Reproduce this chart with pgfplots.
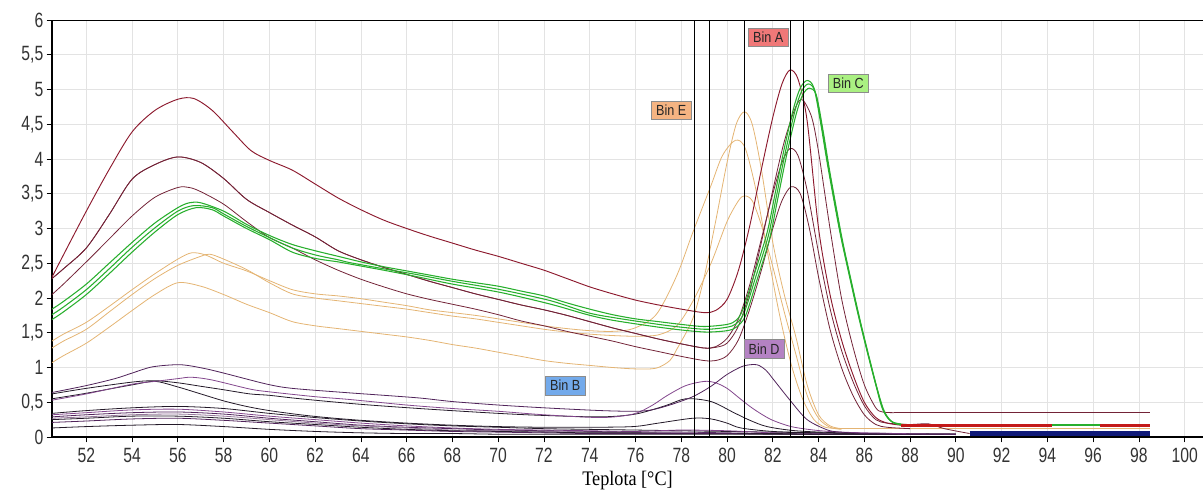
\documentclass[border=0pt]{standalone}
\usepackage{fontspec}
\setmainfont{Liberation Serif}
\newfontfamily\arial{Liberation Sans}
\usepackage{graphicx}
\usepackage{pgfplots}
\pgfplotsset{compat=1.18}
\definecolor{maroonA}{RGB}{115,35,55}
\definecolor{redA}{RGB}{140,25,45}
\definecolor{redbase}{RGB}{195,25,25}
\definecolor{grn}{RGB}{40,175,45}
\definecolor{tanE}{RGB}{228,180,115}
\definecolor{purD}{RGB}{80,35,90}
\definecolor{purM}{RGB}{130,70,140}
\definecolor{darkK}{RGB}{35,25,40}
\definecolor{greyP}{RGB}{150,120,155}
\definecolor{navyB}{RGB}{15,25,120}
\definecolor{binA}{RGB}{240,120,120}
\definecolor{binC}{RGB}{170,240,130}
\definecolor{binE}{RGB}{245,180,130}
\definecolor{binD}{RGB}{180,130,195}
\definecolor{binB}{RGB}{115,170,235}
\begin{document}
\begin{tikzpicture}
\begin{axis}[
  scale only axis, width=863.25pt, height=312.75pt,
  xmin=50.5, xmax=100.8, ymin=0, ymax=6,
  axis x line*=bottom, axis y line*=left,
  x axis line style={-, line width=2.2pt, black},
  y axis line style={-, line width=2.2pt, black},
  xtick={52,54,...,100}, ytick={0,0.5,...,6},
  tick align=outside, major tick length=4pt,
  tick style={black, line width=0.6pt},
  grid=major, major grid style={line width=0.6pt, black!11},
  /pgf/number format/assume math mode=true,
  ticklabel style={font=\arial\fontsize{15.5}{16}\selectfont, text=black!80},
  xticklabel={\scalebox{0.76}[1]{\pgfmathprintnumber{\tick}}},
  yticklabel={\scalebox{0.76}[1]{\pgfmathprintnumber[use comma,fixed,precision=1]{\tick}}},
  xticklabel style={yshift=-1pt},
  yticklabel style={xshift=1pt},
  every axis x label/.style={at={(axis description cs:0.5,0)}, anchor=center, yshift=-32.5pt, font=\fontsize{15.5}{16}\selectfont},
  xlabel={\scalebox{0.88}[1]{Teplota [°C]}},
  no markers,
  cv/.style={smooth, tension=0.5, line width=0.6pt},
]
% small low curves
\addplot[cv, darkK] coordinates {(50.5,0.34)(52,0.38)(54,0.42)(56,0.44)(58,0.41)(60,0.34)(62,0.28)(64,0.23)(66,0.19)(68,0.16)(70,0.14)(72,0.12)(74,0.11)(76,0.10)(78,0.09)(80,0.08)(82,0.07)(84,0.06)(86,0.05)(88,0.04)(90,0.04)};
\addplot[cv, purM] coordinates {(50.5,0.32)(52,0.35)(54,0.39)(56,0.40)(58,0.36)(60,0.30)(62,0.25)(64,0.20)(66,0.16)(68,0.13)(70,0.11)(72,0.10)(74,0.09)(76,0.08)(78,0.10)(80,0.09)(82,0.06)(84,0.05)(86,0.04)(88,0.04)(90,0.04)};
\addplot[cv, purD] coordinates {(50.5,0.29)(52,0.32)(54,0.35)(56,0.36)(58,0.33)(60,0.27)(62,0.22)(64,0.17)(66,0.14)(68,0.12)(70,0.10)(72,0.09)(74,0.08)(76,0.07)(78,0.07)(80,0.06)(82,0.05)(84,0.04)(86,0.04)(88,0.04)(90,0.04)};
\addplot[cv, greyP] coordinates {(50.5,0.27)(52,0.29)(54,0.32)(56,0.33)(58,0.30)(60,0.25)(62,0.20)(64,0.16)(66,0.13)(68,0.10)(70,0.09)(72,0.08)(74,0.07)(76,0.06)(78,0.06)(80,0.05)(82,0.05)(84,0.04)(86,0.04)(88,0.04)(90,0.04)};
\addplot[cv, darkK] coordinates {(50.5,0.25)(52,0.27)(54,0.30)(56,0.30)(58,0.27)(60,0.22)(62,0.18)(64,0.14)(66,0.11)(68,0.09)(70,0.08)(72,0.07)(74,0.06)(76,0.06)(78,0.05)(80,0.05)(82,0.05)(84,0.04)(86,0.04)(88,0.04)(90,0.04)};
\addplot[cv, purD] coordinates {(50.5,0.21)(52,0.23)(54,0.26)(56,0.27)(58,0.24)(60,0.20)(62,0.16)(64,0.12)(66,0.10)(68,0.08)(70,0.07)(72,0.06)(74,0.05)(76,0.05)(78,0.05)(80,0.05)(82,0.04)(84,0.04)(86,0.04)(88,0.04)(90,0.04)};
\addplot[cv, darkK] coordinates {(50.5,0.13)(52,0.15)(54,0.17)(56,0.18)(58,0.15)(60,0.11)(62,0.08)(64,0.06)(66,0.05)(68,0.05)(70,0.04)(72,0.04)(74,0.04)(76,0.04)(78,0.04)(80,0.04)(82,0.04)(84,0.04)(86,0.04)(88,0.04)(90,0.04)};
% purple / dark curves with bumps (Bin B, Bin D)
\addplot[cv, darkK] coordinates {(50.5,0.55)(52,0.63)(54,0.75)(55,0.80)(56,0.72)(57,0.62)(58,0.52)(59,0.44)(60,0.38)(61.35,0.32)(62.5,0.28)(64,0.24)(66,0.20)(68,0.17)(70,0.15)(72,0.14)(74,0.14)(75.9,0.15)(77,0.20)(78.5,0.27)(79.3,0.26)(80,0.20)(80.6,0.13)(82,0.08)(84,0.06)(86,0.05)(88,0.04)(90,0.04)};
\addplot[cv, darkK] coordinates {(50.5,0.62)(52,0.70)(54,0.79)(55,0.81)(56,0.78)(57,0.73)(58,0.68)(59.15,0.62)(60,0.60)(61.35,0.55)(64,0.47)(67,0.40)(70,0.34)(72,0.31)(74.5,0.29)(76,0.33)(77.3,0.45)(78.2,0.55)(79.3,0.51)(80.3,0.35)(81,0.24)(81.75,0.15)(83,0.09)(85,0.06)(87.5,0.05)(90,0.04)};
\addplot[cv, purM] coordinates {(50.5,0.53)(52,0.62)(54,0.76)(55,0.80)(56,0.84)(56.6,0.86)(57.5,0.82)(59.15,0.69)(60,0.65)(62,0.58)(63.5,0.54)(66,0.46)(68,0.41)(70,0.37)(72,0.32)(74.5,0.28)(75.9,0.33)(76.7,0.45)(77.4,0.60)(78.2,0.74)(79,0.80)(79.5,0.78)(80,0.70)(80.5,0.57)(81,0.44)(81.5,0.33)(82,0.24)(82.8,0.15)(83.8,0.10)(85,0.07)(87.5,0.05)(90,0.04)};
\addplot[cv, purD] coordinates {(50.5,0.64)(52,0.74)(53.25,0.84)(54,0.92)(54.9,1.01)(56.1,1.04)(57.1,0.99)(58,0.92)(59.9,0.76)(61,0.70)(63.3,0.64)(65,0.60)(66.6,0.56)(68,0.51)(70,0.46)(72,0.42)(74.5,0.38)(76,0.37)(76.7,0.39)(77.5,0.46)(78.5,0.58)(79.3,0.73)(80,0.90)(80.7,1.02)(81.3,1.04)(81.7,0.96)(82,0.84)(82.75,0.53)(83.5,0.25)(84.4,0.10)(85,0.07)(86,0.05)(88,0.04)(90,0.04)};
% tan curves (Bin E)
\addplot[cv, tanE] coordinates {(50.5,1.38)(51,1.48)(52,1.65)(53,1.88)(54,2.12)(55,2.35)(56,2.56)(56.6,2.65)(57.2,2.62)(58,2.50)(59,2.39)(60,2.25)(61,2.12)(62,2.06)(63,2.03)(64,1.99)(65,1.94)(66,1.89)(67,1.83)(68,1.79)(69,1.75)(70,1.70)(71,1.65)(72,1.60)(73,1.56)(74,1.53)(75,1.52)(75.9,1.56)(76.9,1.76)(77.8,2.32)(78.5,2.94)(79.3,3.62)(79.8,4.05)(80.37,4.27)(80.8,4.15)(81.3,3.50)(81.8,2.60)(82.3,1.75)(82.8,1.05)(83.3,0.55)(83.8,0.25)(84.3,0.14)(85,0.12)};
\addplot[cv, tanE] coordinates {(50.5,1.28)(51,1.38)(52,1.55)(53,1.80)(54,2.05)(55,2.28)(56,2.47)(57,2.60)(57.4,2.63)(58,2.56)(59,2.41)(60,2.22)(61,2.06)(62,2.00)(63,1.96)(64,1.92)(65,1.88)(66,1.84)(67,1.79)(68,1.74)(69,1.70)(70,1.65)(71,1.60)(72,1.55)(73,1.51)(74,1.48)(75,1.46)(76,1.45)(77,1.47)(77.8,1.60)(78.5,1.95)(79.3,2.50)(80,3.10)(80.5,3.40)(80.76,3.47)(81.1,3.40)(81.5,3.05)(82,2.45)(82.5,1.80)(83,1.20)(83.5,0.60)(84,0.27)(84.5,0.14)(85,0.11)};
\addplot[cv, tanE] coordinates {(50.5,1.07)(51,1.17)(52,1.35)(53,1.58)(54,1.82)(55,2.05)(56,2.22)(57,2.17)(58,2.05)(59,1.91)(60,1.79)(61,1.66)(62,1.60)(63,1.56)(64,1.52)(65,1.48)(66,1.44)(67,1.39)(68,1.33)(69,1.28)(70,1.22)(71,1.16)(72,1.10)(73,1.06)(74,1.03)(75,1.00)(76,0.98)(76.9,0.99)(77.5,1.10)(77.8,1.26)(78.5,1.70)(79,2.30)(79.5,3.10)(80,3.95)(80.4,4.50)(80.76,4.68)(81.1,4.50)(81.5,3.85)(82,2.80)(82.5,2.05)(83,1.45)(83.5,0.75)(84,0.32)(84.5,0.16)(85,0.12)};
\addplot[tanE, line width=1.2pt] coordinates {(85,0.12)(98.5,0.12)};
% maroon curves (Bin A)
\addplot[cv, maroonA] coordinates {(50.5,2.05)(51,2.20)(52,2.52)(53,2.85)(54,3.18)(55,3.45)(56,3.59)(56.5,3.59)(57,3.53)(58,3.35)(59,3.10)(60,2.87)(61,2.72)(62,2.55)(63,2.40)(64,2.27)(65,2.16)(66,2.06)(67,1.98)(68,1.91)(69,1.84)(70,1.76)(71,1.67)(72,1.60)(73,1.52)(74,1.45)(75,1.38)(76,1.30)(77,1.23)(78,1.16)(79,1.10)(79.5,1.10)(80,1.17)(80.5,1.40)(81,1.85)(81.5,2.40)(82,3.00)(82.4,3.40)(82.8,3.60)(83.2,3.50)(83.6,3.00)(84,2.30)(84.5,1.55)(85,1.00)(85.5,0.60)(86,0.32)(86.5,0.18)(87,0.14)(88,0.12)};
\addplot[cv, maroonA] coordinates {(50.5,2.28)(51,2.42)(52,2.72)(53,3.20)(54,3.71)(55,3.92)(56,4.03)(57,3.95)(58,3.72)(59,3.42)(60,3.23)(61,3.05)(62,2.88)(63,2.68)(64,2.55)(65,2.44)(66,2.34)(67,2.24)(68,2.15)(69,2.06)(70,1.98)(71,1.90)(72,1.83)(73,1.75)(74,1.66)(75,1.57)(76,1.49)(77,1.41)(78,1.34)(79,1.28)(79.5,1.30)(80,1.42)(80.5,1.70)(81,2.20)(81.5,2.85)(82,3.50)(82.4,3.95)(82.75,4.15)(83.1,4.05)(83.5,3.55)(84,2.65)(84.5,1.85)(85,1.25)(85.5,0.80)(86,0.45)(86.5,0.25)(87,0.20)(88,0.18)(88.8,0.19)(89.5,0.12)(90.6,0.05)};
\addplot[cv, maroonA] coordinates {(50.5,2.28)(51,2.42)(52,2.72)(53,3.20)(54,3.71)(55,3.92)(56,4.03)(57,3.95)(58,3.72)(59,3.42)(60,3.23)(61,3.05)(62,2.88)(63,2.68)(64,2.55)(65,2.44)(66,2.34)(67,2.24)(68,2.15)(69,2.06)(70,1.98)(71,1.90)(72,1.83)(73,1.75)(74,1.66)(75,1.57)(76,1.49)(77,1.41)(78,1.34)(79,1.28)(79.5,1.29)(80,1.35)(80.5,1.60)(81,2.10)(81.5,2.80)(82,3.55)(82.5,4.25)(83,4.75)(83.3,4.85)(83.7,4.60)(84,4.10)(84.5,3.00)(85,2.00)(85.5,1.30)(86,0.75)(86.5,0.42)(86.8,0.36)(87.3,0.35)};
\addplot[maroonA, line width=0.7pt] coordinates {(87.3,0.35)(98.5,0.35)};
\addplot[cv, redA, line width=0.7pt] coordinates {(50.5,2.30)(51,2.62)(52,3.25)(53,3.85)(54,4.39)(55,4.70)(56,4.86)(56.7,4.87)(57.5,4.70)(58.4,4.39)(59.2,4.12)(60,3.98)(61,3.84)(62,3.64)(63,3.44)(64,3.27)(65,3.12)(66,3.00)(67,2.89)(68,2.79)(69,2.69)(70,2.60)(71,2.50)(72,2.40)(73,2.28)(74,2.16)(75,2.06)(76,1.97)(77,1.90)(78,1.84)(79,1.79)(79.5,1.82)(80,1.98)(80.5,2.40)(81,3.05)(81.5,3.85)(82,4.60)(82.4,5.08)(82.75,5.28)(83.1,5.15)(83.5,4.55)(84,3.00)(84.5,2.05)(85,1.40)(85.5,0.90)(86,0.50)(86.5,0.28)(87,0.20)(87.6,0.17)};
% green curves (Bin C)
\addplot[cv, grn, line width=0.8pt] coordinates {(50.5,1.69)(51,1.80)(52,2.05)(53,2.35)(54,2.66)(55,2.95)(56,3.20)(56.8,3.30)(57.5,3.27)(58,3.18)(59,3.00)(60,2.84)(61,2.66)(62,2.57)(63,2.52)(63.5,2.49)(65,2.40)(66.4,2.31)(68,2.20)(70.1,2.08)(72.3,1.91)(73.9,1.76)(75,1.68)(76.8,1.59)(78,1.54)(79.1,1.51)(80,1.53)(80.4,1.58)(80.8,1.74)(81.3,2.25)(81.85,2.84)(82.2,3.40)(82.6,4.05)(83,4.62)(83.3,4.92)(83.6,5.02)(83.9,4.92)(84.2,4.40)(84.5,3.80)(85,2.90)(85.35,2.36)(85.8,1.70)(86.2,1.16)(86.6,0.65)(86.9,0.35)(87.3,0.20)(88,0.16)};
\addplot[cv, grn, line width=0.8pt] coordinates {(50.5,1.76)(51,1.87)(52,2.12)(53,2.42)(54,2.73)(55,3.01)(56,3.25)(56.7,3.33)(57.5,3.30)(58,3.21)(59,3.03)(60,2.87)(61,2.72)(62,2.62)(63,2.55)(63.5,2.51)(65,2.42)(66.4,2.34)(68,2.24)(70.1,2.12)(72.3,1.96)(73.9,1.79)(75,1.72)(76.8,1.63)(78,1.58)(79.1,1.55)(80,1.58)(80.4,1.63)(80.75,1.79)(81.25,2.30)(81.8,2.89)(82.15,3.45)(82.55,4.10)(82.95,4.67)(83.25,4.97)(83.55,5.08)(83.85,4.97)(84.15,4.45)(84.45,3.85)(84.95,2.95)(85.3,2.41)(85.75,1.75)(86.15,1.21)(86.55,0.70)(86.85,0.37)(87.25,0.21)(88,0.16)};
\addplot[cv, grn, line width=0.8pt] coordinates {(50.5,1.84)(51,1.95)(52,2.20)(53,2.50)(54,2.80)(55,3.08)(56,3.30)(56.5,3.37)(57,3.37)(58,3.25)(59,3.06)(60,2.90)(61,2.77)(62,2.68)(63,2.60)(64,2.52)(65,2.45)(66,2.39)(67,2.33)(68,2.27)(69,2.22)(70,2.17)(71,2.10)(72,2.03)(73,1.93)(74,1.84)(75,1.76)(76,1.70)(77,1.66)(78,1.62)(79,1.59)(80,1.62)(80.4,1.68)(80.7,1.84)(81.2,2.35)(81.75,2.94)(82.1,3.50)(82.5,4.15)(82.9,4.72)(83.2,5.02)(83.5,5.13)(83.8,5.02)(84.1,4.50)(84.4,3.90)(84.9,3.00)(85.25,2.46)(85.7,1.80)(86.1,1.26)(86.5,0.75)(86.8,0.40)(87.2,0.22)(88,0.17)};
% baselines
\addplot[grn, line width=1.5pt] coordinates {(88,0.17)(98.5,0.17)};
\addplot[redbase, line width=2.2pt] coordinates {(87.6,0.17)(94.2,0.17)};
\addplot[redbase, line width=2.2pt] coordinates {(96.3,0.17)(98.5,0.17)};
\addplot[navyB, line width=3.2pt] coordinates {(90.6,0.05)(98.5,0.05)};
% bin boundaries
\addplot[black, line width=1.1pt] coordinates {(78.57,0)(78.57,6)};
\addplot[black, line width=1.1pt] coordinates {(79.23,0)(79.23,6)};
\addplot[black, line width=1.1pt] coordinates {(80.76,0)(80.76,6)};
\addplot[black, line width=1.1pt] coordinates {(82.77,0)(82.77,6)};
\addplot[black, line width=1.1pt] coordinates {(83.34,0)(83.34,6)};
% bin labels
\tikzset{binlab/.style={draw=black!45, line width=0.6pt, inner xsep=3.5pt, inner ysep=3pt, text height=8pt, text depth=0pt, font=\arial\fontsize{11}{12}\selectfont, text=black!85}}
\node[binlab, fill=binA] at (axis cs:81.8,5.75) {\scalebox{0.86}[1]{Bin A}};
\node[binlab, fill=binC] at (axis cs:85.3,5.09) {\scalebox{0.86}[1]{Bin C}};
\node[binlab, fill=binE] at (axis cs:77.56,4.70) {\scalebox{0.86}[1]{Bin E}};
\node[binlab, fill=binD] at (axis cs:81.62,1.27) {\scalebox{0.86}[1]{Bin D}};
\node[binlab, fill=binB] at (axis cs:72.93,0.74) {\scalebox{0.86}[1]{Bin B}};
\draw[black, line width=0.8pt] (rel axis cs:0,1) -- (rel axis cs:1,1);
\node[rotate=90, anchor=center, font=\fontsize{15.5}{16}\selectfont] at ([xshift=-18.75pt]axis description cs:0,0.516) {dF/dT};
\end{axis}
\pgfresetboundingbox
\useasboundingbox (-39pt,-39.75pt) rectangle (863.25pt,327.75pt);
\end{tikzpicture}
\end{document}
